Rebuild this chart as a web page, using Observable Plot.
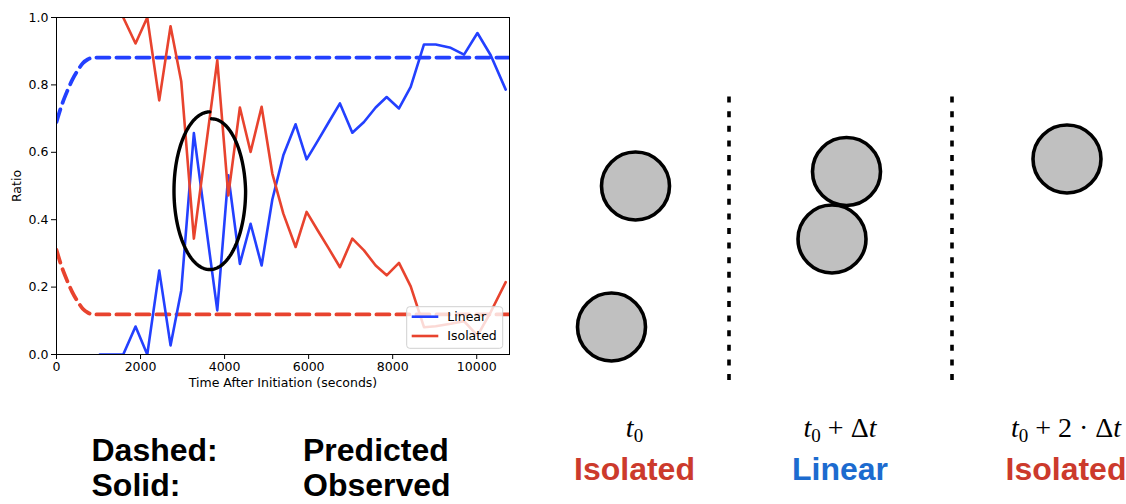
<!DOCTYPE html>
<html><head><meta charset="utf-8">
<script src="https://cdn.jsdelivr.net/npm/d3@7"></script>
<script src="https://cdn.jsdelivr.net/npm/@observablehq/plot@0.6"></script>
<style>
body{margin:0;background:#fff;}
#wrap{position:relative;width:1126px;height:504px;overflow:hidden;background:#fff;}
#left{position:absolute;left:0;top:0;}
#right{position:absolute;left:560px;top:60px;}
#labels{position:absolute;left:0;top:0;}
</style></head><body>
<div id="wrap"><div id="left"></div><div id="right"></div><svg id="labels" width="1126" height="504"></svg></div>
<script>
// ---------- data: observed ratios ----------
const linearTime = [1031, 1310, 1588, 1881, 2160, 2445, 2714, 2969, 3269, 3538, 3826, 4088, 4364, 4619, 4881, 5136, 5398, 5690, 5952, 6217, 6481, 6745, 7040, 7317, 7595, 7857, 8150, 8429, 8745, 9024, 9381, 9698, 10017, 10333, 10690];
const linearObserved = [0, 0, 0, 0.083, 0, 0.249, 0.027, 0.19, 0.657, 0.40, 0.131, 0.532, 0.269, 0.388, 0.264, 0.46, 0.591, 0.683, 0.579, 0.634, 0.69, 0.745, 0.658, 0.69, 0.733, 0.764, 0.73, 0.794, 0.92, 0.92, 0.91, 0.89, 0.954, 0.888, 0.786];
const isolatedTime = [1588, 1881, 2160, 2445, 2714, 2969, 3269, 3538, 3826, 4088, 4364, 4619, 4881, 5136, 5398, 5690, 5952, 6217, 6481, 6745, 7040, 7317, 7595, 7857, 8150, 8429, 8745, 9024, 9381, 9698, 10017, 10333, 10690];
const isolatedObserved = [1.0, 0.923, 1.0, 0.754, 0.974, 0.81, 0.344, 0.60, 0.873, 0.472, 0.733, 0.601, 0.735, 0.537, 0.418, 0.319, 0.423, 0.368, 0.314, 0.259, 0.344, 0.309, 0.264, 0.235, 0.272, 0.202, 0.081, 0.084, 0.091, 0.099, 0.056, 0.126, 0.215];
// ---------- data: predicted ratios ----------
const predTime = [0, 125, 250, 375, 500, 625, 750, 875, 10780];
const linearPredicted = [0.69, 0.74, 0.78, 0.815, 0.842, 0.864, 0.876, 0.881, 0.881];
const isolatedPredicted = [0.31, 0.26, 0.22, 0.185, 0.158, 0.136, 0.124, 0.119, 0.119];
// ---------- axes ----------
const xTicks = [0, 2000, 4000, 6000, 8000, 10000];
const yTicks = [0, 0.2, 0.4, 0.6, 0.8, 1.0];
const xDomain = [0, 10780];
const seriesNames = ["Linear", "Isolated"];
// ---------- annotation ellipse (data units) ----------
const ellipseCenter = [3648, 0.486];
const ellipseRadii = [852, 0.234];
// ---------- schematic (arbitrary units) ----------
const frameSeparators = [3.37, 7.83];
const particleX = [1.50, 1.02, 5.72, 5.43, 10.13];
const particleY = [4.29, 1.47, 4.58, 3.23, 4.83];
const frameLabels = ["t0", "t0 + Δt", "t0 + 2 · Δt"];
const frameStates = ["Isolated", "Linear", "Isolated"];

const BLUE = "#2340ff", RED = "#e8432e";
const colorOf = {Linear: BLUE, Isolated: RED};

const observed = [
  ...linearTime.map((t, i) => ({t, v: linearObserved[i], s: "Linear"})),
  ...isolatedTime.map((t, i) => ({t, v: isolatedObserved[i], s: "Isolated"}))
];
const predicted = [
  ...predTime.map((t, i) => ({t, v: linearPredicted[i], s: "Linear"})),
  ...predTime.map((t, i) => ({t, v: isolatedPredicted[i], s: "Isolated"}))
];
const ellipse = d3.range(0, 181).map(k => {
  const th = Math.PI / 2 + (k / 180) * (2 * Math.PI - 0.05);
  const f = th > 2 * Math.PI ? 1 - 0.09 * (th - 2 * Math.PI) / (Math.PI / 2) : 1;
  return {t: ellipseCenter[0] + ellipseRadii[0] * f * Math.cos(th), v: ellipseCenter[1] + ellipseRadii[1] * f * Math.sin(th)};
});

const leftPlot = Plot.plot({
  width: 540, height: 400,
  marginLeft: 56, marginRight: 31, marginTop: 17, marginBottom: 46,
  style: {fontFamily: "'DejaVu Sans', sans-serif", fontSize: "12.5px", color: "#000", background: "transparent", overflow: "visible"},
  x: {domain: xDomain},
  y: {domain: [0, 1]},
  color: {domain: seriesNames, range: [BLUE, RED]},
  marks: [
    Plot.axisX({ticks: xTicks, tickFormat: d => String(d), tickSize: 5, tickPadding: 3, label: "Time After Initiation (seconds)", labelAnchor: "center", labelArrow: "none", labelOffset: 32, fontSize: 12.5}),
    Plot.axisY({ticks: yTicks, tickFormat: d => d.toFixed(1), tickSize: 5, tickPadding: 3, label: "Ratio", labelAnchor: "center", labelArrow: "none", labelOffset: 44, fontSize: 12.5}),
    Plot.line(predicted, {x: "t", y: "v", z: "s", stroke: d => colorOf[d.s], strokeWidth: 3.8, strokeDasharray: "13,7", curve: "monotone-x", clip: true}),
    Plot.line(observed, {x: "t", y: "v", z: "s", stroke: d => colorOf[d.s], strokeWidth: 2.6, clip: true}),
    Plot.line(ellipse, {x: "t", y: "v", stroke: "#000", strokeWidth: 3.4, curve: "linear"}),
    Plot.frame({stroke: "#000", strokeWidth: 1})
  ]
});
document.getElementById("left").appendChild(leftPlot);

// legend inside the plot frame (lower right)
{
  const sx = leftPlot.scale("x"), sy = leftPlot.scale("y");
  const fr = sx.range[1], fb = sy.range[0];
  const g = d3.select(leftPlot).append("g").attr("font-family", "'DejaVu Sans', sans-serif").attr("font-size", 12.5).attr("text-anchor", "start");
  g.append("rect").attr("x", fr - 102.3).attr("y", fb - 47.3).attr("width", 96).attr("height", 41.6)
    .attr("rx", 3).attr("fill", "#fff").attr("fill-opacity", 0.8).attr("stroke", "#d0d0d0").attr("stroke-width", 1);
  seriesNames.forEach((name, i) => {
    const y = fb - 37.3 + i * 19.3;
    g.append("line").attr("x1", fr - 97.3).attr("x2", fr - 70.7).attr("y1", y).attr("y2", y)
      .attr("stroke", colorOf[name]).attr("stroke-width", 2.6);
    g.append("text").attr("x", fr - 61.7).attr("y", y).attr("dy", "0.35em").attr("text-anchor", "start").attr("fill", "#000").text(name);
  });
}

// schematic of particle states
const particles = particleX.map((x, i) => ({x, y: particleY[i]}));
const rightPlot = Plot.plot({
  width: 566, height: 340, margin: 0,
  x: {domain: [0, 11.32], axis: null},
  y: {domain: [0, 6.8], axis: null},
  style: {background: "transparent", overflow: "visible"},
  marks: [
    Plot.ruleX(frameSeparators, {y1: 0.4, y2: 6.12, stroke: "#000", strokeWidth: 3.6, strokeDasharray: "6,8.6"}),
    Plot.dot(particles, {x: "x", y: "y", r: 34, fill: "#c0c0c0", stroke: "#000", strokeWidth: 3.6})
  ]
});
document.getElementById("right").appendChild(rightPlot);

// text labels
const svg = d3.select("#labels");
const bold = "'Liberation Sans', Arial, sans-serif";
[["Dashed:", "Predicted", 461], ["Solid:", "Observed", 496]].forEach(([a, b, y]) => {
  svg.append("text").attr("x", 91.5).attr("y", y).attr("font-family", bold).attr("font-weight", "bold").attr("font-size", 32).attr("fill", "#000").text(a);
  svg.append("text").attr("x", 303).attr("y", y).attr("font-family", bold).attr("font-weight", "bold").attr("font-size", 32).attr("fill", "#000").text(b);
});
const centers = [634.5, 840, 1066];
const stateColor = {Isolated: "#cc3a2c", Linear: "#1c6bcf"};
frameLabels.forEach((lab, i) => {
  const t = svg.append("text").attr("x", centers[i]).attr("y", 437).attr("text-anchor", "middle")
    .attr("font-family", "'Liberation Serif', 'Times New Roman', serif").attr("font-size", 28).attr("fill", "#000");
  const rest = lab.slice(2); // after "t0"
  t.append("tspan").attr("font-style", "italic").text("t");
  t.append("tspan").attr("font-size", 19).attr("dy", 5).text("0");
  if (rest.length) {
    const parts = rest.split("Δt");
    t.append("tspan").attr("dy", -5).text(parts[0] + "Δ");
    t.append("tspan").attr("font-style", "italic").text("t");
  }
  svg.append("text").attr("x", centers[i]).attr("y", 480).attr("text-anchor", "middle")
    .attr("font-family", bold).attr("font-weight", "bold").attr("font-size", 32).attr("fill", stateColor[frameStates[i]]).text(frameStates[i]);
});
</script></body></html>
